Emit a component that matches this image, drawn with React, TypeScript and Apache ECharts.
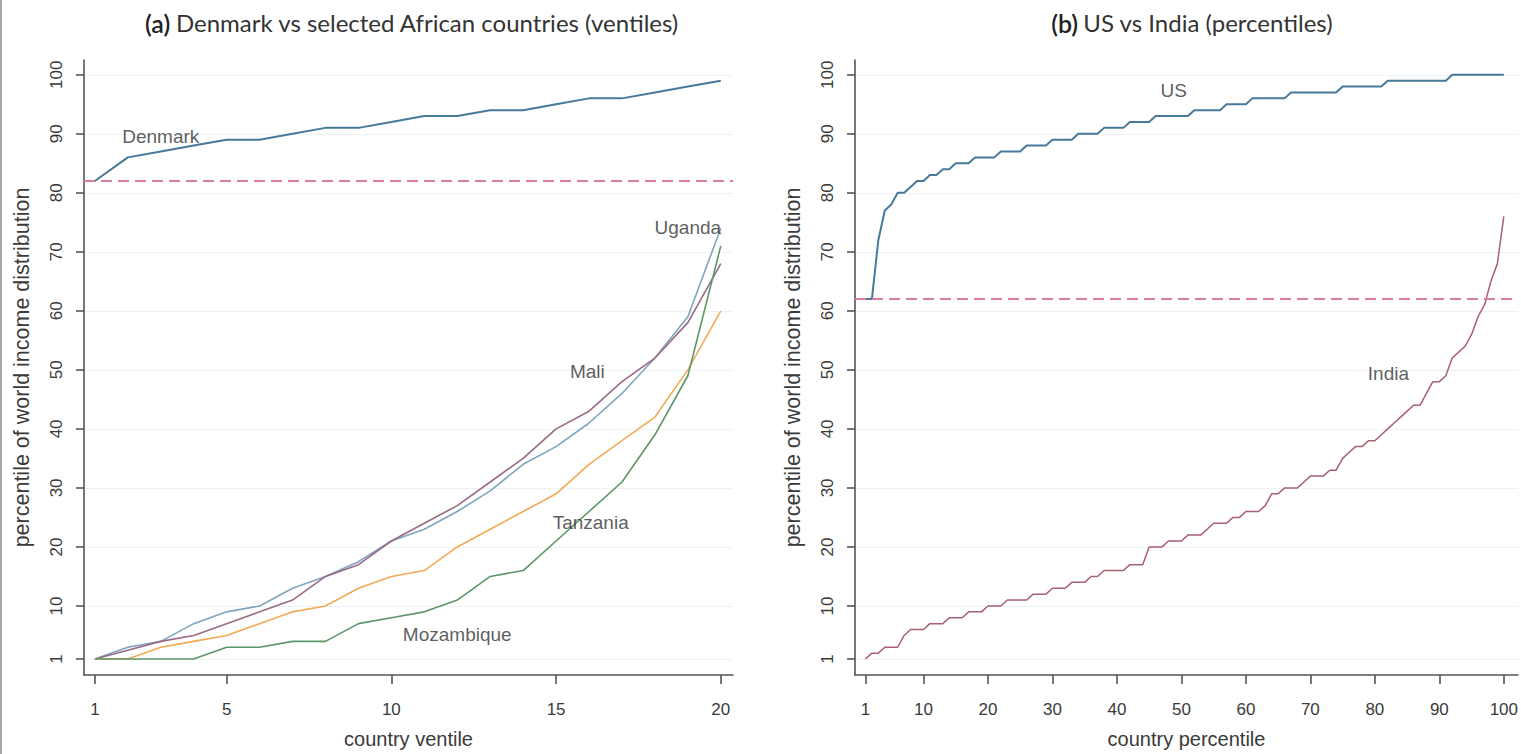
import React, { useEffect, useRef } from 'react';
import * as echarts from 'echarts';

// ---------- data ----------
const ventiles = [1, 2, 3, 4, 5, 6, 7, 8, 9, 10, 11, 12, 13, 14, 15, 16, 17, 18, 19, 20];
const denmark = [82, 86, 87, 88, 89, 89, 90, 91, 91, 92, 93, 93, 94, 94, 95, 96, 96, 97, 98, 99];
const uganda = [1, 3, 4, 7, 9, 10, 13, 15, 17.5, 21, 23, 26, 29.5, 34, 37, 41, 46, 52, 59, 74];
const mali = [1, 2.5, 4, 5, 7, 9, 11, 15, 17, 21, 24, 27, 31, 35, 40, 43, 48, 52, 58, 68];
const tanzania = [1, 1, 3, 4, 5, 7, 9, 10, 13, 15, 16, 20, 23, 26, 29, 34, 38, 42, 50, 60];
const mozambique = [1, 1, 1, 1, 3, 3, 4, 4, 7, 8, 9, 11, 15, 16, 21, 26, 31, 39, 49, 71];

const percentiles = Array.from({ length: 100 }, (_, i) => i + 1);
const us = [
  62, 62, 72, 77, 78, 80, 80, 81, 82, 82,
  83, 83, 84, 84, 85, 85, 85, 86, 86, 86,
  86, 87, 87, 87, 87, 88, 88, 88, 88, 89,
  89, 89, 89, 90, 90, 90, 90, 91, 91, 91,
  91, 92, 92, 92, 92, 93, 93, 93, 93, 93,
  93, 94, 94, 94, 94, 94, 95, 95, 95, 95,
  96, 96, 96, 96, 96, 96, 97, 97, 97, 97,
  97, 97, 97, 97, 98, 98, 98, 98, 98, 98,
  98, 99, 99, 99, 99, 99, 99, 99, 99, 99,
  99, 100, 100, 100, 100, 100, 100, 100, 100, 100,
];
const india = [
  1, 2, 2, 3, 3, 3, 5, 6, 6, 6,
  7, 7, 7, 8, 8, 8, 9, 9, 9, 10,
  10, 10, 11, 11, 11, 11, 12, 12, 12, 13,
  13, 13, 14, 14, 14, 15, 15, 16, 16, 16,
  16, 17, 17, 17, 20, 20, 20, 21, 21, 21,
  22, 22, 22, 23, 24, 24, 24, 25, 25, 26,
  26, 26, 27, 29, 29, 30, 30, 30, 31, 32,
  32, 32, 33, 33, 35, 36, 37, 37, 38, 38,
  39, 40, 41, 42, 43, 44, 44, 46, 48, 48,
  49, 52, 53, 54, 56, 59, 61, 65, 68, 76,
];

const denmarkThreshold = 82;
const usThreshold = 62;

const yTicks = [1, 10, 20, 30, 40, 50, 60, 70, 80, 90, 100];
const ventileTicks = [1, 5, 10, 15, 20];
const percentileTicks = [1, 10, 20, 30, 40, 50, 60, 70, 80, 90, 100];

const leftLabels = [
  { name: 'Denmark', x: 3, y: 89.6 },
  { name: 'Uganda', x: 19, y: 74.2 },
  { name: 'Mali', x: 15.95, y: 49.7 },
  { name: 'Tanzania', x: 16.05, y: 24.2 },
  { name: 'Mozambique', x: 12, y: 5.2 },
];
const rightLabels = [
  { name: 'US', x: 48.8, y: 97.3 },
  { name: 'India', x: 82.1, y: 49.3 },
];

const titleA = ['(a)', 'Denmark vs selected African countries (ventiles)'];
const titleB = ['(b)', 'US vs India (percentiles)'];
const xNameA = 'country ventile';
const xNameB = 'country percentile';
const yName = 'percentile of world income distribution';

// ---------- styles ----------
const FONT = "'Liberation Sans', Arial, sans-serif";
const TITLE_FONT = "Lato, 'Open Sans', sans-serif";
const axisColor = '#555';
const gridColor = '#eef1f3';

const pair = (xs: number[], ys: number[]) => xs.map((x, i) => [x, ys[i]]);

function xAxisCfg(gridIndex: number, min: number, max: number, ticks: number[], name: string) {
  return {
    type: 'value', gridIndex, min, max,
    axisLine: { show: true, onZero: false, lineStyle: { color: axisColor, width: 1.6 } },
    axisTick: { show: true, customValues: ticks, length: 9, lineStyle: { color: axisColor, width: 1.6 } },
    axisLabel: { customValues: ticks, margin: 26, fontFamily: FONT, fontSize: 17, color: '#3a3a3a' },
    splitLine: { show: false },
    name, nameLocation: 'middle', nameGap: 54,
    nameTextStyle: { fontFamily: FONT, fontSize: 20, color: '#3a3a3a' },
  };
}
function yAxisCfg(gridIndex: number, nameGap: number) {
  return {
    type: 'value', gridIndex, min: -1.7, max: 102.5,
    axisLine: { show: true, onZero: false, lineStyle: { color: axisColor, width: 1.6 } },
    axisTick: { show: true, customValues: yTicks, length: 8, lineStyle: { color: axisColor, width: 1.6 } },
    axisLabel: { customValues: yTicks, rotate: 90, margin: 19, fontFamily: FONT, fontSize: 17, color: '#3a3a3a' },
    splitLine: { show: true, lineStyle: { color: gridColor, width: 1.2 } },
    name: yName, nameLocation: 'middle', nameGap,
    nameTextStyle: { fontFamily: FONT, fontSize: 21.5, color: '#3a3a3a' },
  };
}
function lineSeries(name: string, xi: number, data: number[][], color: string, width: number) {
  return {
    type: 'line', name, xAxisIndex: xi, yAxisIndex: xi, data,
    symbol: 'none', lineStyle: { color, width }, z: 3,
  };
}
function labelSeries(xi: number, labels: { name: string; x: number; y: number }[]) {
  return {
    type: 'scatter', xAxisIndex: xi, yAxisIndex: xi, symbolSize: 1,
    itemStyle: { color: 'rgba(0,0,0,0)' }, silent: true, z: 5,
    data: labels.map((l) => ({ name: l.name, value: [l.x, l.y] })),
    label: {
      show: true, position: 'inside', formatter: (p: any) => p.name,
      fontFamily: FONT, fontSize: 19, color: '#333',
    },
    labelLayout: { hideOverlap: false },
  };
}
function thresholdSeries(xi: number, v: number) {
  return {
    type: 'line', xAxisIndex: xi, yAxisIndex: xi, data: [], z: 2,
    markLine: {
      silent: true, symbol: 'none', label: { show: false },
      lineStyle: { color: '#e07ba0', width: 2, type: [11, 6] },
      data: [{ yAxis: v }],
    },
  };
}

const titleRich = {
  a: { fontFamily: TITLE_FONT, fontSize: 25, fontWeight: 600, color: '#222' },
  b: { fontFamily: TITLE_FONT, fontSize: 24, fontWeight: 'normal', color: '#333' },
};

const option = {
  animation: false,
  backgroundColor: '#fff',
  title: [
    { text: `{a|${titleA[0]}} {b|${titleA[1]}}`, left: 407, top: 5, textAlign: 'center', textStyle: { fontWeight: 'normal', rich: titleRich } },
    { text: `{a|${titleB[0]}} {b|${titleB[1]}}`, left: 1187, top: 5, textAlign: 'center', textStyle: { fontWeight: 'normal', rich: titleRich } },
  ],
  graphic: [
    { type: 'rect', shape: { x: 0, y: 0, width: 2, height: 754 }, style: { fill: '#a8a8a8' } },
  ],
  grid: [
    { left: 84, top: 60, right: 788, bottom: 73, containLabel: false },
    { left: 855, top: 60, right: 2, bottom: 73, containLabel: false },
  ],
  xAxis: [
    xAxisCfg(0, 0.67, 20.37, ventileTicks, xNameA),
    xAxisCfg(1, -0.62, 102.2, percentileTicks, xNameB),
  ],
  yAxis: [yAxisCfg(0, 51), yAxisCfg(1, 51)],
  series: [
    thresholdSeries(0, denmarkThreshold),
    thresholdSeries(1, usThreshold),
    lineSeries('Denmark', 0, pair(ventiles, denmark), '#46799a', 2),
    lineSeries('Uganda', 0, pair(ventiles, uganda), '#7ea6bd', 1.6),
    lineSeries('Mali', 0, pair(ventiles, mali), '#9a6a86', 1.6),
    lineSeries('Tanzania', 0, pair(ventiles, tanzania), '#f2aa55', 1.6),
    lineSeries('Mozambique', 0, pair(ventiles, mozambique), '#5b9669', 1.6),
    lineSeries('US', 1, pair(percentiles, us), '#46799a', 2),
    lineSeries('India', 1, pair(percentiles, india), '#a8606e', 1.5),
    labelSeries(0, leftLabels),
    labelSeries(1, rightLabels),
  ],
};

export default function App() {
  const ref = useRef<HTMLDivElement>(null);
  useEffect(() => {
    document.body.style.margin = '0';
    const chart = echarts.init(ref.current!, null, { renderer: 'svg' });
    chart.setOption(option as any);
    return () => chart.dispose();
  }, []);
  return <div ref={ref} style={{ width: 1521, height: 754 }} />;
}
